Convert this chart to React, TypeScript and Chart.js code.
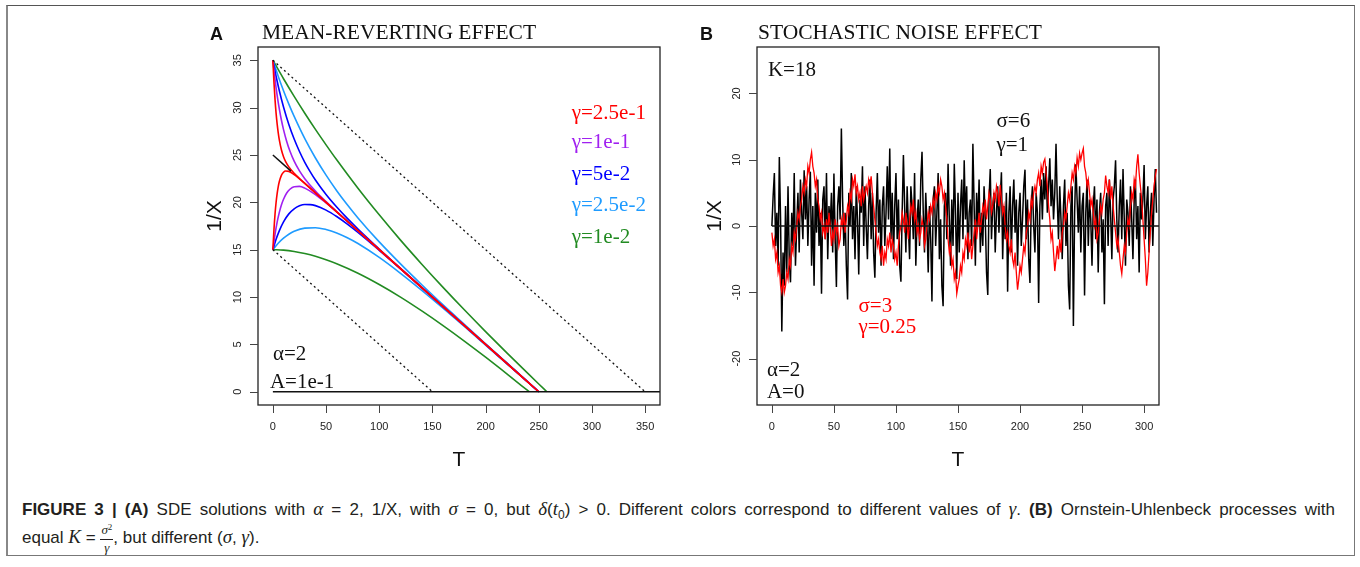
import React, { useEffect, useRef } from "react";
import { Chart, registerables } from "chart.js";

Chart.register(...registerables);

const SANS = "'Liberation Sans', Arial, Helvetica, sans-serif";
const SERIF = "'Liberation Serif', 'Times New Roman', serif";

// ---------------- Panel A: mean-reverting effect ----------------
const tG1 = [0, 1, 2, 3, 4, 5, 6, 8, 10, 12, 15, 20, 25, 30, 50, 100, 150, 200, 250];
const g1Upper = [35, 32.69, 30.87, 29.42, 28.28, 27.37, 26.63, 25.55, 24.82, 24.3, 23.74, 23.07, 22.52, 22.0, 20, 15, 10, 5, 0];
const g1Lower = [15, 17.11, 18.74, 19.98, 20.92, 21.64, 22.17, 22.85, 23.18, 23.3, 23.27, 22.93, 22.48, 22.0, 20, 15, 10, 5, 0];

const tG2 = [0, 2, 4, 6, 8, 10, 13, 16, 20, 25, 30, 40, 50, 60, 80, 150, 250];
const g2Upper = [35, 32.99, 31.3, 29.89, 28.69, 27.68, 26.43, 25.42, 24.35, 23.32, 22.5, 21.18, 20.07, 19.02, 17, 10, 0];
const g2Lower = [15, 16.61, 17.9, 18.91, 19.71, 20.32, 20.98, 21.38, 21.65, 21.68, 21.5, 20.82, 19.93, 18.98, 17, 10, 0];

const tG3 = [0, 3, 6, 10, 15, 20, 25, 30, 35, 40, 50, 60, 70, 80, 100, 120, 150, 250];
const g3Upper = [35, 33.31, 31.81, 30.07, 28.22, 26.68, 25.37, 24.23, 23.24, 22.35, 20.82, 19.5, 18.3, 17.18, 15.07, 13.02, 10, 0];
const g3Lower = [15, 16.09, 16.99, 17.94, 18.78, 19.32, 19.63, 19.77, 19.76, 19.65, 19.18, 18.5, 17.7, 16.82, 14.93, 12.98, 10, 0];

const tG4 = [0, 5, 10, 15, 20, 30, 40, 50, 60, 70, 80, 100, 120, 140, 160, 180, 200, 225, 250];
const g4Upper = [35, 33.32, 31.79, 30.37, 29.07, 26.72, 24.68, 22.87, 21.23, 19.74, 18.35, 15.82, 13.5, 11.3, 9.18, 7.11, 5.07, 2.54, 0];
const g4Lower = [15, 15.68, 16.21, 16.63, 16.94, 17.28, 17.32, 17.13, 16.77, 16.26, 15.65, 14.18, 12.5, 10.7, 8.82, 6.89, 4.93, 2.46, 0];

const tG5Upper = [0, 10, 20, 30, 40, 50, 60, 80, 100, 120, 140, 160, 180, 200, 220, 240, 250, 257.6];
const g5Upper = [35, 33.05, 31.19, 29.41, 27.7, 26.07, 24.49, 21.49, 18.68, 16.01, 13.47, 11.02, 8.65, 6.35, 4.11, 1.91, 0.82, 0];
const tG5Lower = [0, 10, 20, 30, 40, 50, 60, 80, 100, 120, 140, 160, 180, 200, 220, 241];
const g5Lower = [15, 14.95, 14.81, 14.59, 14.3, 13.93, 13.51, 12.51, 11.32, 9.99, 8.53, 6.98, 5.35, 3.65, 1.89, 0];

const tBoundUpper = [0, 350];
const boundUpper = [35, 0];
const tBoundLower = [0, 150];
const boundLower = [15, 0];
const tMeanLine = [0, 17];
const meanLine = [25, 23.3];
const tZeroA = [0, 364];
const zeroA = [0, 0];

const gammaLabels = ["γ=2.5e-1", "γ=1e-1", "γ=5e-2", "γ=2.5e-2", "γ=1e-2"];
const gammaColors = ["#FF0000", "#A020F0", "#0000FF", "#1E9BFF", "#228B22"];

// ---------------- Panel B: Ornstein-Uhlenbeck paths (T = 0..310) ----------------
const blackPath = [
  0, 4.5, 8, -3, 2, -6, 10.4, 1, -15.9, -4,
  -9, 3, -7, 6, -5, -8.5, 2, -3, 8, -6,
  0, 5, -4, 7, 2, -2, 8.4, 1, 6, -3,
  4, 8.2, -6, 3, -9, 5, -1, 7, -3, 2,
  -10.2, 4, 6, -2, 8, -5, 3, 0, 5, -4,
  7.9, -2, -9.2, 3, 6, 1, 14.7, 4, -3, 2,
  -6, -11.1, 5, 0, 8, -2, 3, -5, 6, 1,
  -7.3, 4, 2, 9, -3, 6, 0, -5, 3, 7,
  -2, 5, -4, -7.8, 2, 8, -1, 4, -6, 3,
  6, -3, 2, 9, 1, 11.7, -2, 5, -5, 3,
  8, -2, 4, -6, -8.4, 2, 10.7, 3, -4, 6,
  0, -5, 6, 3, -2, 8, -6, 1, 4, -3,
  7, 11.2, 2, -4, 5, 0, -7, 3, -2, -11.4,
  4, 6, -3, 2, 8, -5, 1, -9, -12.1, 3,
  5, -2, 9.4, 1, -6, 4, -3, 9.4, 2, -8,
  5, -4, 3, 7, -2, 9.9, 1, 6, -5, 2,
  4, -3, 12.4, 3, -6, 5, 0, 7, -4, 2,
  -3, 6, 1, -7, -10.4, 4, 8.6, -2, 3, 5,
  -4, 2, 6, -1, 4, 8.1, -5, 3, -2, 5,
  -9.9, 2, 6, -4, 3, 7, -1, 4, -6, 2,
  5, -3, 1, 6, 8.5, -2, 4, -5, -8.6, 3,
  6, 0, -4, 5, 2, -11.6, 3, 7, 1, 8,
  4, 9, 2, 6, 10.2, 3, 7, 1, 5, 12.4,
  4, -2, 6, 1, -5, 3, 7, -3, 2, -9,
  -12.6, 3, 6, -15.1, 2, 9.3, 4, -1, 6, -4,
  3, 5, -10.5, 2, 7, -3, 4, 1, -6, 3,
  6, -2, 4, -7, 2, 5, -4, 1, -11.8, 3,
  5, -3, 7, 2, -5, 4, 6, 9.9, 1, -4,
  3, 7, -2, 8.6, 1, -6, 4, 2, -3, 6,
  1, -5, 4, 7, -2, 3, -7, 5, 1, 4,
  9.2, -2, 3, 6, -4, 2, 5, -3, 4, 8.6, 2,
];

const redPath = [
  -1, -3, -2, -5, -4, -7, -6, -9, -10, -8,
  -10, -9, -7, -8, -5, -6, -3, -4, -1, -2,
  0, 2, 1, 3, 4, 6, 5, 7, 6, 9,
  8, 10, 11.1, 9, 8, 6, 7, 4, 3, 1,
  2, -1, 0, -2, 1, -1, 2, 0, -3, -1,
  -2, 1, -1, 0, -3, -2, 1, 0, 2, -1,
  1, 3, 2, 5, 4, 7, 6, 7.8, 5, 6,
  4, 5, 3, 6, 4, 5, 6, 5, 7, 6,
  7.5, 5, 3, 1, -1, -3, -2, -4, -5, -3,
  -6, -4, -5, -2, -3, -1, -4, -2, -3, -5,
  -4, -6, -3, -1, 0, 2, 1, -1, 2, 0,
  -2, 1, 3, 2, 4, 1, 2, -1, 0, -2,
  -1, 1, 0, -3, -2, 0, 2, 1, 3, 2,
  4, 3, 5, 4, 6, 5, 7, 6, 4, 5,
  3, 1, -2, -4, -3, -6, -5, -8, -7, -10.2,
  -9, -8, -6, -7, -4, -5, -2, -3, -1, -4,
  -2, -5, -3, -1, 1, -2, 0, 2, -1, 1,
  3, 2, 4, 1, 3, 5, 4, 2, 3, 5,
  4, 6, 5, 3, 6.2, 4, 2, 3, 0, -2,
  -1, -3, -4, -2, -5, -6, -4, -7, -9.6, -8,
  -6, -7, -5, -3, -4, -1, 0, 2, 1, 4,
  3, 5, 6, 5, 7, 8, 6, 9, 8, 9.6,
  10.1, 8, 6, 3, 1, -2, -1, -4, -6.8, -5,
  -3, -5, -2, -4, -1, 0, 2, 1, 3, 5,
  4, 6, 8, 7, 9, 8, 10.3, 9, 11, 10,
  11, 11.7, 9, 8, 6, 7, 5, 3, 4, 2,
  0, 1, -2, -1, 1, 3, 2, 4, 5, 7.6,
  6, 5, 7, 4, 6, 3, 1, -1, -3, -2,
  -4, -6, -7.2, -5, -3, -4, -1, 1, 0, 3,
  5, 4, 7, 6, 9, 10.8, 8, 6, 4, 1,
  -2, -5, -9, -7, -4, -1, 2, 4, 6, 7.5, 8.6,
];

const tZeroB = [0, 312];
const zeroB = [0, 0];

// ---------------- helpers ----------------
const pts = (xs: number[], ys: number[]) => xs.map((x, i) => ({ x, y: ys[i] }));

const series = (xs: number[], ys: number[], color: string, width = 1.6, dash: number[] = [], smooth = true) => ({
  data: pts(xs, ys),
  borderColor: color,
  borderWidth: width,
  borderDash: dash,
  pointRadius: 0,
  showLine: true,
  fill: false,
  tension: 0,
  cubicInterpolationMode: smooth ? ("monotone" as const) : ("default" as const),
});

type Txt = {
  text: string;
  x: number;
  y: number;
  px?: boolean;
  color?: string;
  size?: number;
  family?: string;
  weight?: string;
  align?: CanvasTextAlign;
  baseline?: CanvasTextBaseline;
  rotate?: boolean;
  centerX?: boolean;
};

const decor = (texts: Txt[]) => ({
  id: "decor",
  afterDraw(chart: any) {
    const { ctx, chartArea: a, scales } = chart;
    const xs = scales.x;
    const ys = scales.y;
    ctx.save();
    ctx.strokeStyle = "#222";
    ctx.lineWidth = 1.3;
    ctx.strokeRect(a.left, a.top, a.right - a.left, a.bottom - a.top);
    ctx.beginPath();
    xs.ticks.forEach((t: any) => {
      const p = Math.round(xs.getPixelForValue(t.value)) + 0.5;
      ctx.moveTo(p, a.bottom);
      ctx.lineTo(p, a.bottom + 8);
    });
    ys.ticks.forEach((t: any) => {
      const p = Math.round(ys.getPixelForValue(t.value)) + 0.5;
      ctx.moveTo(a.left, p);
      ctx.lineTo(a.left - 8, p);
    });
    ctx.lineWidth = 1;
    ctx.strokeStyle = "#444";
    ctx.stroke();
    texts.forEach((t) => {
      let x = t.px ? t.x : xs.getPixelForValue(t.x);
      const y = t.px ? t.y : ys.getPixelForValue(t.y);
      if (t.centerX) x = (a.left + a.right) / 2;
      ctx.save();
      ctx.font = `${t.weight || "normal"} ${t.size || 21}px ${t.family || SERIF}`;
      ctx.fillStyle = t.color || "#111";
      ctx.textAlign = t.align || "left";
      ctx.textBaseline = t.baseline || "middle";
      ctx.translate(x, y);
      if (t.rotate) ctx.rotate(-Math.PI / 2);
      ctx.fillText(t.text, 0, 0);
      ctx.restore();
    });
    ctx.restore();
  },
});

const makeOptions = (
  xmin: number, xmax: number, xstep: number,
  ymin: number, ymax: number, ystep: number,
  yPad: number, yWidth: number, xHeight: number, padRight: number
) => ({
  animation: false,
  responsive: false,
  maintainAspectRatio: false,
  devicePixelRatio: 1,
  events: [],
  layout: { padding: { left: 0, right: padRight, top: 47, bottom: 0 } },
  plugins: { legend: { display: false }, tooltip: { enabled: false }, title: { display: false } },
  scales: {
    x: {
      type: "linear",
      min: xmin,
      max: xmax,
      grid: { display: false, drawTicks: false },
      border: { display: false },
      ticks: {
        stepSize: xstep, includeBounds: false, autoSkip: false, maxRotation: 0, minRotation: 0,
        padding: 15, color: "#222", font: { family: SANS, size: 11 },
      },
      afterFit: (s: any) => { s.height = xHeight; },
    },
    y: {
      type: "linear",
      min: ymin,
      max: ymax,
      grid: { display: false, drawTicks: false },
      border: { display: false },
      ticks: {
        stepSize: ystep, includeBounds: false, autoSkip: false, minRotation: 90, maxRotation: 90,
        crossAlign: "center", padding: yPad, color: "#222", font: { family: SANS, size: 11 },
      },
      afterFit: (s: any) => { s.width = yWidth; },
    },
  },
});

const configA = () => ({
  type: "scatter",
  data: {
    datasets: [
      series(tZeroA, zeroA, "#111", 1.4, [], false),
      series(tBoundUpper, boundUpper, "#111", 1.3, [2, 3], false),
      series(tBoundLower, boundLower, "#111", 1.3, [2, 3], false),
      series(tMeanLine, meanLine, "#111", 1.5, [], false),
      series(tG1, g1Upper, gammaColors[0]),
      series(tG1, g1Lower, gammaColors[0]),
      series(tG2, g2Upper, gammaColors[1]),
      series(tG2, g2Lower, gammaColors[1]),
      series(tG3, g3Upper, gammaColors[2]),
      series(tG3, g3Lower, gammaColors[2]),
      series(tG4, g4Upper, gammaColors[3]),
      series(tG4, g4Lower, gammaColors[3]),
      series(tG5Upper, g5Upper, gammaColors[4]),
      series(tG5Lower, g5Lower, gammaColors[4]),
    ],
  },
  options: makeOptions(-14, 364, 50, -1.4, 36.4, 5, 14.4, 68, 75, 20),
  plugins: [
    decor([
      { text: "A", x: 20, y: 40, px: true, family: SANS, weight: "bold", size: 18, baseline: "alphabetic", color: "#111" },
      { text: "MEAN-REVERTING EFFECT", x: 72, y: 39, px: true, size: 21.5, baseline: "alphabetic" },
      { text: "1/X", x: 25.5, y: 216, px: true, family: SANS, size: 21, rotate: true, align: "center" },
      { text: "T", x: 0, y: 460, px: true, centerX: true, family: SANS, size: 21, align: "center" },
      ...gammaLabels.map((g, i) => ({ text: g, x: 281, y: [29.4, 26.3, 22.9, 19.7, 16.3][i], color: gammaColors[i] })),
      { text: "α=2", x: 0, y: 3.9 },
      { text: "A=1e-1", x: -2.8, y: 1.0 },
    ]),
  ],
});

const configB = () => ({
  type: "scatter",
  data: {
    datasets: [
      series(tZeroB, zeroB, "#111", 1.4, [], false),
      series(redPath.map((_, i) => i), redPath, "#FF0000", 1.3, [], false),
      series(blackPath.map((_, i) => i), blackPath, "#000000", 1.5, [], false),
    ],
  },
  options: makeOptions(-12, 312, 50, -27, 27, 10, 12.5, 67, 75, 21),
  plugins: [
    decor([
      { text: "B", x: 10, y: 40, px: true, family: SANS, weight: "bold", size: 18, baseline: "alphabetic", color: "#111" },
      { text: "STOCHASTIC NOISE EFFECT", x: 68, y: 39, px: true, size: 21.5, baseline: "alphabetic" },
      { text: "1/X", x: 25.5, y: 216, px: true, family: SANS, size: 21, rotate: true, align: "center" },
      { text: "T", x: 0, y: 460, px: true, centerX: true, family: SANS, size: 21, align: "center" },
      { text: "K=18", x: -3.2, y: 23.5 },
      { text: "σ=6", x: 181, y: 15.8 },
      { text: "γ=1", x: 181, y: 12.2 },
      { text: "σ=3", x: 69.8, y: -12.1, color: "#FF0000" },
      { text: "γ=0.25", x: 69.8, y: -15.3, color: "#FF0000" },
      { text: "α=2", x: -4, y: -21.8 },
      { text: "A=0", x: -4, y: -25.1 },
    ]),
  ],
});

const Panel = ({ make, left }: { make: () => any; left: number }) => {
  const ref = useRef<HTMLCanvasElement>(null);
  useEffect(() => {
    const chart = new Chart(ref.current as HTMLCanvasElement, make());
    return () => chart.destroy();
  }, []);
  return (
    <canvas
      ref={ref}
      width={490}
      height={480}
      style={{ position: "absolute", left, top: 0, width: 490, height: 480, display: "block" }}
    />
  );
};

const M = ({ children }: { children: React.ReactNode }) => (
  <span style={{ fontFamily: SERIF, fontStyle: "italic", fontSize: 19 }}>{children}</span>
);

export default function App() {
  return (
    <div style={{ position: "absolute", left: 0, top: 0, width: 1360, height: 567, background: "#fff", overflow: "hidden" }}>
      <div
        style={{
          position: "absolute", left: 6, top: 5, width: 1349, height: 551,
          borderTop: "1.5px solid #555", borderLeft: "2px solid #888", borderRight: "1.5px solid #777",
          borderBottom: "1.5px solid #777", boxSizing: "border-box",
        }}
      />
      <Panel make={configA} left={190} />
      <Panel make={configB} left={690} />
      <div
        style={{
          position: "absolute", left: 22, top: 497, width: 1313, fontFamily: SANS, fontSize: 17,
          lineHeight: "24px", color: "#231F20", textAlign: "justify", textAlignLast: "justify" as any,
        }}
      >
        <b>FIGURE 3 | (A)</b> SDE solutions with <M>α</M> = 2, 1/X, with <M>σ</M> = 0, but <M>δ</M>(<M>t</M>
        <sub style={{ fontSize: 12 }}>0</sub>) &gt; 0. Different colors correspond to different values of <M>γ</M>.{" "}
        <b>(B)</b> Ornstein-Uhlenbeck processes with
      </div>
      <div
        style={{
          position: "absolute", left: 22, top: 522, fontFamily: SANS, fontSize: 17,
          lineHeight: "30px", color: "#231F20", whiteSpace: "nowrap",
        }}
      >
        equal <M>K</M> ={" "}
        <span style={{ display: "inline-block", verticalAlign: "middle", textAlign: "center", lineHeight: "13px", fontFamily: SERIF, fontStyle: "italic", fontSize: 13 }}>
          <span style={{ display: "block", borderBottom: "1px solid #231F20", padding: "0 1px 1px" }}>
            σ<span style={{ fontSize: 9, fontStyle: "normal", position: "relative", top: -4 }}>2</span>
          </span>
          <span style={{ display: "block", paddingTop: 1 }}>γ</span>
        </span>
        , but different (<M>σ</M>, <M>γ</M>).
      </div>
    </div>
  );
}
